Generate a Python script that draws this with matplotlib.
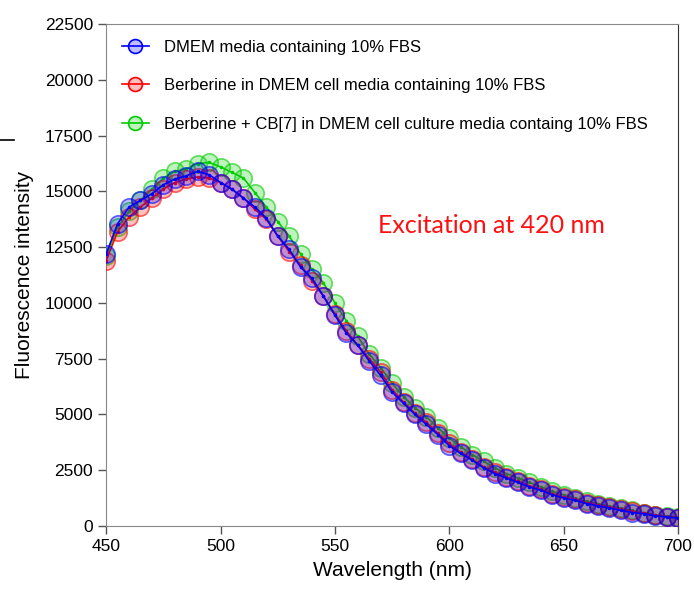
import numpy as np
import matplotlib.pyplot as plt
from matplotlib.lines import Line2D

plt.rcParams['font.family'] = ['Liberation Sans', 'DejaVu Sans']

wavelength = np.arange(450, 701, 5)

dmem = [12200, 13550, 14300, 14600, 14900, 15300, 15550, 15700, 15900, 15750,
        15400, 15100, 14700, 14300, 13800, 13000, 12400, 11600, 11100, 10300,
        9450, 8650, 8100, 7400, 6750, 6000, 5500, 5000, 4550, 4100,
        3600, 3250, 2950, 2600, 2350, 2150, 1950, 1750, 1600, 1400,
        1250, 1150, 1000, 900, 800, 700, 600, 550, 450, 400, 350]

berberine = [11900, 13200, 13850, 14300, 14700, 15100, 15400, 15550, 15650, 15600,
             15400, 15100, 14700, 14200, 13750, 13000, 12300, 11700, 11000, 10300,
             9500, 8750, 8100, 7500, 6900, 6100, 5550, 5050, 4650, 4150,
             3700, 3300, 3000, 2650, 2400, 2200, 2000, 1800, 1650, 1450,
             1300, 1200, 1050, 950, 850, 750, 650, 580, 480, 420, 370]

berb_cb7 = [12100, 13400, 14100, 14600, 15100, 15600, 15900, 16000, 16250, 16300,
            16100, 15850, 15600, 14950, 14300, 13650, 13000, 12200, 11500, 10900,
            10000, 9200, 8500, 7700, 7100, 6400, 5800, 5300, 4900, 4400,
            3950, 3550, 3200, 2900, 2600, 2350, 2150, 1950, 1750, 1550,
            1400, 1250, 1100, 1000, 900, 800, 700, 600, 500, 450, 400]

labels = ['DMEM media containing 10% FBS',
          'Berberine in DMEM cell media containing 10% FBS',
          'Berberine + CB[7] in DMEM cell culture media containg 10% FBS']
colors = ['#0000ff', '#ff0000', '#00cc00']

fig = plt.figure(figsize=(6.94, 5.89), dpi=100)
ax = fig.add_axes([0.153, 0.107, 0.824, 0.852])

series = [dmem, berberine, berb_cb7]
order = [2, 1, 0]
for i in order:
    c = colors[i]
    z = 2 + (2 - i)
    ax.plot(wavelength, series[i], '-', color=c, lw=1.2, zorder=z)
    ax.plot(wavelength, series[i], 'o', ms=12.5, mfc=c, mec='none', alpha=0.25, zorder=z)
    ax.plot(wavelength, series[i], 'o', ms=12.5, mfc='none', mec=c, mew=1.2,
            alpha=0.6, zorder=z)
    ax.plot(wavelength, series[i], '.', ms=3, color=c, zorder=z)

handles = []
for c in colors:
    h = Line2D([0], [0], color=c, lw=1.2, marker='o', ms=10,
               mfc=(*plt.matplotlib.colors.to_rgb(c), 0.25), mec=c, mew=1.2)
    handles.append(h)
ax.legend(handles, labels, loc='upper left', bbox_to_anchor=(0.0, 1.0),
          frameon=False, fontsize=12, handlelength=1.6, labelspacing=1.4,
          handletextpad=0.9, borderaxespad=0.55)

ax.set_xlim(450, 700)
ax.set_ylim(0, 22500)
ax.set_xticks(np.arange(450, 701, 50))
ax.set_yticks(np.arange(0, 22501, 2500))
ax.tick_params(direction='out', length=6, width=1, color='#555555',
               labelsize=12.5)
for s in ['left', 'bottom', 'top']:
    ax.spines[s].set_color('#888888')
ax.spines['right'].set_color('#333333')
ax.set_xlabel('Wavelength (nm)', fontsize=15, labelpad=5)
ax.set_ylabel('Fluorescence intensity', fontsize=15, labelpad=8)

ax.text(569, 13450, 'Excitation at 420 nm', color='#ff1010', fontsize=18,
        family='Lato', va='center')

fig.add_artist(Line2D([0.0, 0.02], [0.762, 0.762], color='black', lw=1.2))

fig.savefig('out.png', dpi=100)
